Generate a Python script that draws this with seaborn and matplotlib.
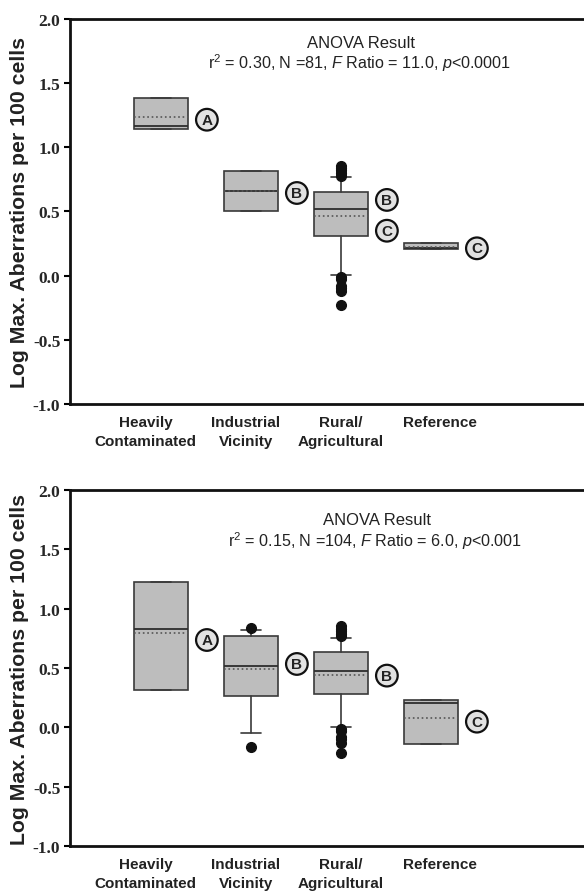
import matplotlib
matplotlib.use("Agg")
import matplotlib.pyplot as plt
import seaborn as sns

sns.set_theme(style="ticks")
plt.rcParams["mathtext.fontset"] = "custom"
plt.rcParams["mathtext.rm"] = "Liberation Sans"
plt.rcParams["mathtext.it"] = "Liberation Sans:italic"

# ---------------- data ----------------
categories = ["Heavily\nContaminated", "Industrial\nVicinity", "Rural/\nAgricultural", "Reference"]

# Panel 1
p1_q1 = [1.143, 0.50, 0.311, 0.207]
p1_med = [1.168, 0.657, 0.522, 0.212]
p1_q3 = [1.384, 0.818, 0.649, 0.252]
p1_mean = [1.234, 0.662, 0.467, 0.222]
p1_whislo = [1.143, 0.50, 0.007, 0.207]
p1_whishi = [1.384, 0.818, 0.766, 0.252]
p1_fliers = [[], [], [0.78, 0.80, 0.82, 0.84, 0.855, -0.01, -0.03, -0.08, -0.10, -0.12, -0.227], []]
p1_letters = [["A"], ["B"], ["B", "C"], ["C"]]
p1_letter_y = [[1.215], [0.644], [0.59, 0.35], [0.213]]
p1_title = "ANOVA Result"
p1_stats = r"r$^{2}$ = 0.30, N =81, $\it{F}$ Ratio = 11.0, $\it{p}$<0.0001"

# Panel 2
p2_q1 = [0.318, 0.267, 0.281, -0.14]
p2_med = [0.829, 0.517, 0.478, 0.205]
p2_q3 = [1.228, 0.773, 0.635, 0.233]
p2_mean = [0.798, 0.489, 0.439, 0.077]
p2_whislo = [0.318, -0.045, 0.003, -0.14]
p2_whishi = [1.228, 0.82, 0.753, 0.233]
p2_fliers = [[], [0.835, -0.165], [0.77, 0.79, 0.81, 0.83, 0.85, -0.01, -0.03, -0.08, -0.10, -0.13, -0.218], []]
p2_letters = [["A"], ["B"], ["B"], ["C"]]
p2_letter_y = [[0.736], [0.534], [0.436], [0.048]]
p2_title = "ANOVA Result"
p2_stats = r"r$^{2}$ = 0.15, N =104, $\it{F}$ Ratio = 6.0, $\it{p}$<0.001"

yticks = [-1.0, -0.5, 0.0, 0.5, 1.0, 1.5, 2.0]
ylabel = "Log Max. Aberrations per 100 cells"

# ---------------- drawing ----------------
fig = plt.figure(figsize=(5.84, 8.95), dpi=100)
ax1 = fig.add_axes([0.12, 0.5475, 0.88, 0.4302])
ax2 = fig.add_axes([0.12, 0.0536, 0.88, 0.3978])

positions = [0, 1, 2, 3]
label_pos = [-0.17, 0.94, 2.0, 3.1]

def panel(ax, q1, med, q3, mean, wlo, whi, fliers, letters, letter_y, title, stats, title_xy, stats_xy):
    bstats = []
    for i in range(len(q1)):
        bstats.append(dict(q1=q1[i], med=med[i], q3=q3[i], mean=mean[i],
                           whislo=wlo[i], whishi=whi[i], fliers=fliers[i]))
    ax.bxp(bstats, positions=positions, widths=0.61, patch_artist=True,
           showmeans=True, meanline=True, showcaps=True,
           boxprops=dict(facecolor="#bdbdbd", edgecolor="#3a3a3a", linewidth=1.2),
           medianprops=dict(color="#2e2e2e", linewidth=1.3),
           meanprops=dict(color="#555555", linestyle=":", linewidth=1.2),
           whiskerprops=dict(color="#3a3a3a", linewidth=1.2),
           capprops=dict(color="#3a3a3a", linewidth=1.2),
           capwidths=0.22,
           flierprops=dict(marker="o", markerfacecolor="#111111", markeredgecolor="#111111",
                           markersize=7))
    for i, (ls, ys) in enumerate(zip(letters, letter_y)):
        for l, y in zip(ls, ys):
            ax.text(positions[i] + 0.51, y, l, ha="center", va="center",
                    fontsize=11, fontweight="bold", family="Liberation Sans", color="#222222",
                    bbox=dict(boxstyle="circle,pad=0.25", fc="#e2e2e2", ec="#111111", lw=1.6))
    ax.text(title_xy[0], title_xy[1], title, ha="center", va="center",
            fontsize=12, family="Liberation Sans", color="#222222")
    ax.text(stats_xy[0], stats_xy[1], stats, ha="center", va="center",
            fontsize=11.6, family="Liberation Sans", color="#222222")
    ax.set_xlim(-1.01, 4.7)
    ax.set_ylim(-1.0, 2.0)
    ax.set_yticks(yticks)
    ax.set_yticklabels([f"{t:.1f}" for t in yticks], family="Liberation Serif",
                       fontweight="bold", fontsize=12.5)
    ax.set_xticks(label_pos)
    ax.set_xticklabels(categories, family="Liberation Sans", fontweight="bold",
                       fontsize=11, color="#222222", linespacing=1.45)
    ax.tick_params(axis="x", length=0, pad=8)
    ax.tick_params(axis="y", length=4, width=1.5, direction="out", pad=3, color="black")
    ax.set_ylabel(ylabel, family="Liberation Sans", fontweight="bold", fontsize=15.3,
                  labelpad=3, color="#222222")
    for s in ["left", "bottom", "top"]:
        ax.spines[s].set_linewidth(2.0)
        ax.spines[s].set_color("#111111")
    ax.spines["right"].set_visible(False)
    ax.set_facecolor("white")

panel(ax1, p1_q1, p1_med, p1_q3, p1_mean, p1_whislo, p1_whishi, p1_fliers,
      p1_letters, p1_letter_y, p1_title, p1_stats, (2.22, 1.82), (2.21, 1.66))
panel(ax2, p2_q1, p2_med, p2_q3, p2_mean, p2_whislo, p2_whishi, p2_fliers,
      p2_letters, p2_letter_y, p2_title, p2_stats, (2.4, 1.75), (2.38, 1.58))

fig.savefig("out.png", dpi=100, facecolor="white")
